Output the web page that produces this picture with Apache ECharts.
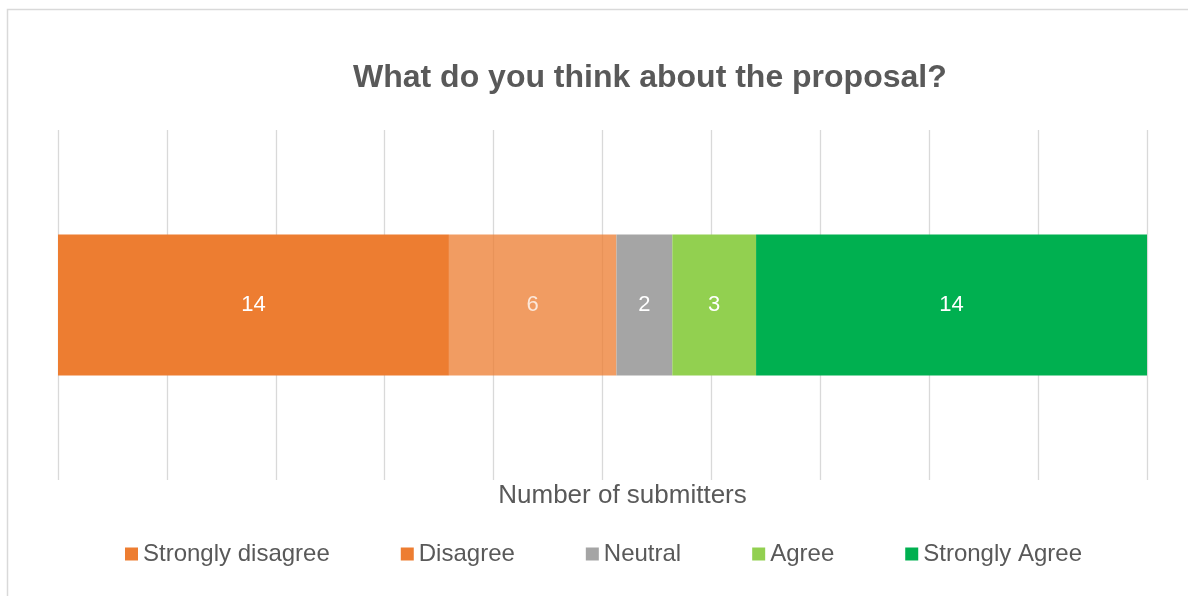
<!DOCTYPE html>
<html>
<head>
<meta charset="utf-8">
<script src="https://cdn.jsdelivr.net/npm/echarts@6/dist/echarts.min.js"></script>
<style>
html,body{margin:0;padding:0;background:#fff;}
#chart{width:1188px;height:596px;}
</style>
</head>
<body>
<div id="chart"></div>
<script>
var categories = ['Response'];
var seriesNames = ['Strongly disagree', 'Disagree', 'Neutral', 'Agree', 'Strongly Agree'];
var stronglyDisagree = [14];
var disagree = [6];
var neutral = [2];
var agree = [3];
var stronglyAgree = [14];
var seriesValues = [stronglyDisagree, disagree, neutral, agree, stronglyAgree];
var colors = ['#ED7D31', '#ED7D31', '#A5A5A5', '#92D050', '#00B050'];
var opacities = [1, 0.76, 1, 1, 1];

var FONT = '"Liberation Sans", Arial, sans-serif';
var chart = echarts.init(document.getElementById('chart'), null, {renderer: 'canvas'});

var series = seriesNames.map(function (name, i) {
  return {
    name: name,
    type: 'bar',
    stack: 'total',
    barWidth: 141,
    data: seriesValues[i],
    itemStyle: {color: colors[i], opacity: opacities[i]},
    label: {
      show: true,
      position: 'inside',
      color: '#FFFFFF',
      fontSize: 22,
      fontFamily: FONT
    },
    emphasis: {disabled: true}
  };
});

chart.setOption({
  animation: false,
  backgroundColor: '#FFFFFF',
  title: {
    text: 'What do you think about the proposal?',
    left: 353,
    top: 62,
    padding: 0,
    textStyle: {color: '#595959', fontSize: 32, fontWeight: 'bold', fontFamily: FONT}
  },
  legend: {
    data: seriesNames.map(function (n, i) {
      return {name: n, itemStyle: {color: colors[i], opacity: 1}};
    }),
    left: 125,
    top: 542,
    padding: 0,
    itemWidth: 13,
    itemHeight: 13,
    itemGap: 71,
    icon: 'rect',
    textStyle: {color: '#595959', fontSize: 24, fontFamily: FONT}
  },
  grid: {left: 58, right: 41, top: 130, bottom: 116, containLabel: false},
  xAxis: {
    type: 'value',
    min: 0,
    max: 39,
    interval: 3.9,
    name: 'Number of submitters',
    nameLocation: 'middle',
    nameGap: 3,
    nameTextStyle: {color: '#595959', fontSize: 26, fontFamily: FONT, verticalAlign: 'top', padding: [0, 0, 0, 40]},
    axisLine: {show: false},
    axisTick: {show: false},
    axisLabel: {show: false},
    splitLine: {show: true, lineStyle: {color: '#D9D9D9', width: 1.3}}
  },
  yAxis: {
    type: 'category',
    data: categories,
    axisLine: {show: false},
    axisTick: {show: false},
    axisLabel: {show: false},
    splitLine: {show: false}
  },
  graphic: [{
    type: 'rect',
    shape: {x: 7.5, y: 9.5, width: 1400, height: 800},
    style: {fill: 'none', stroke: '#D9D9D9', lineWidth: 1.5},
    silent: true,
    z: -10
  }],
  series: series
});
</script>
</body>
</html>
